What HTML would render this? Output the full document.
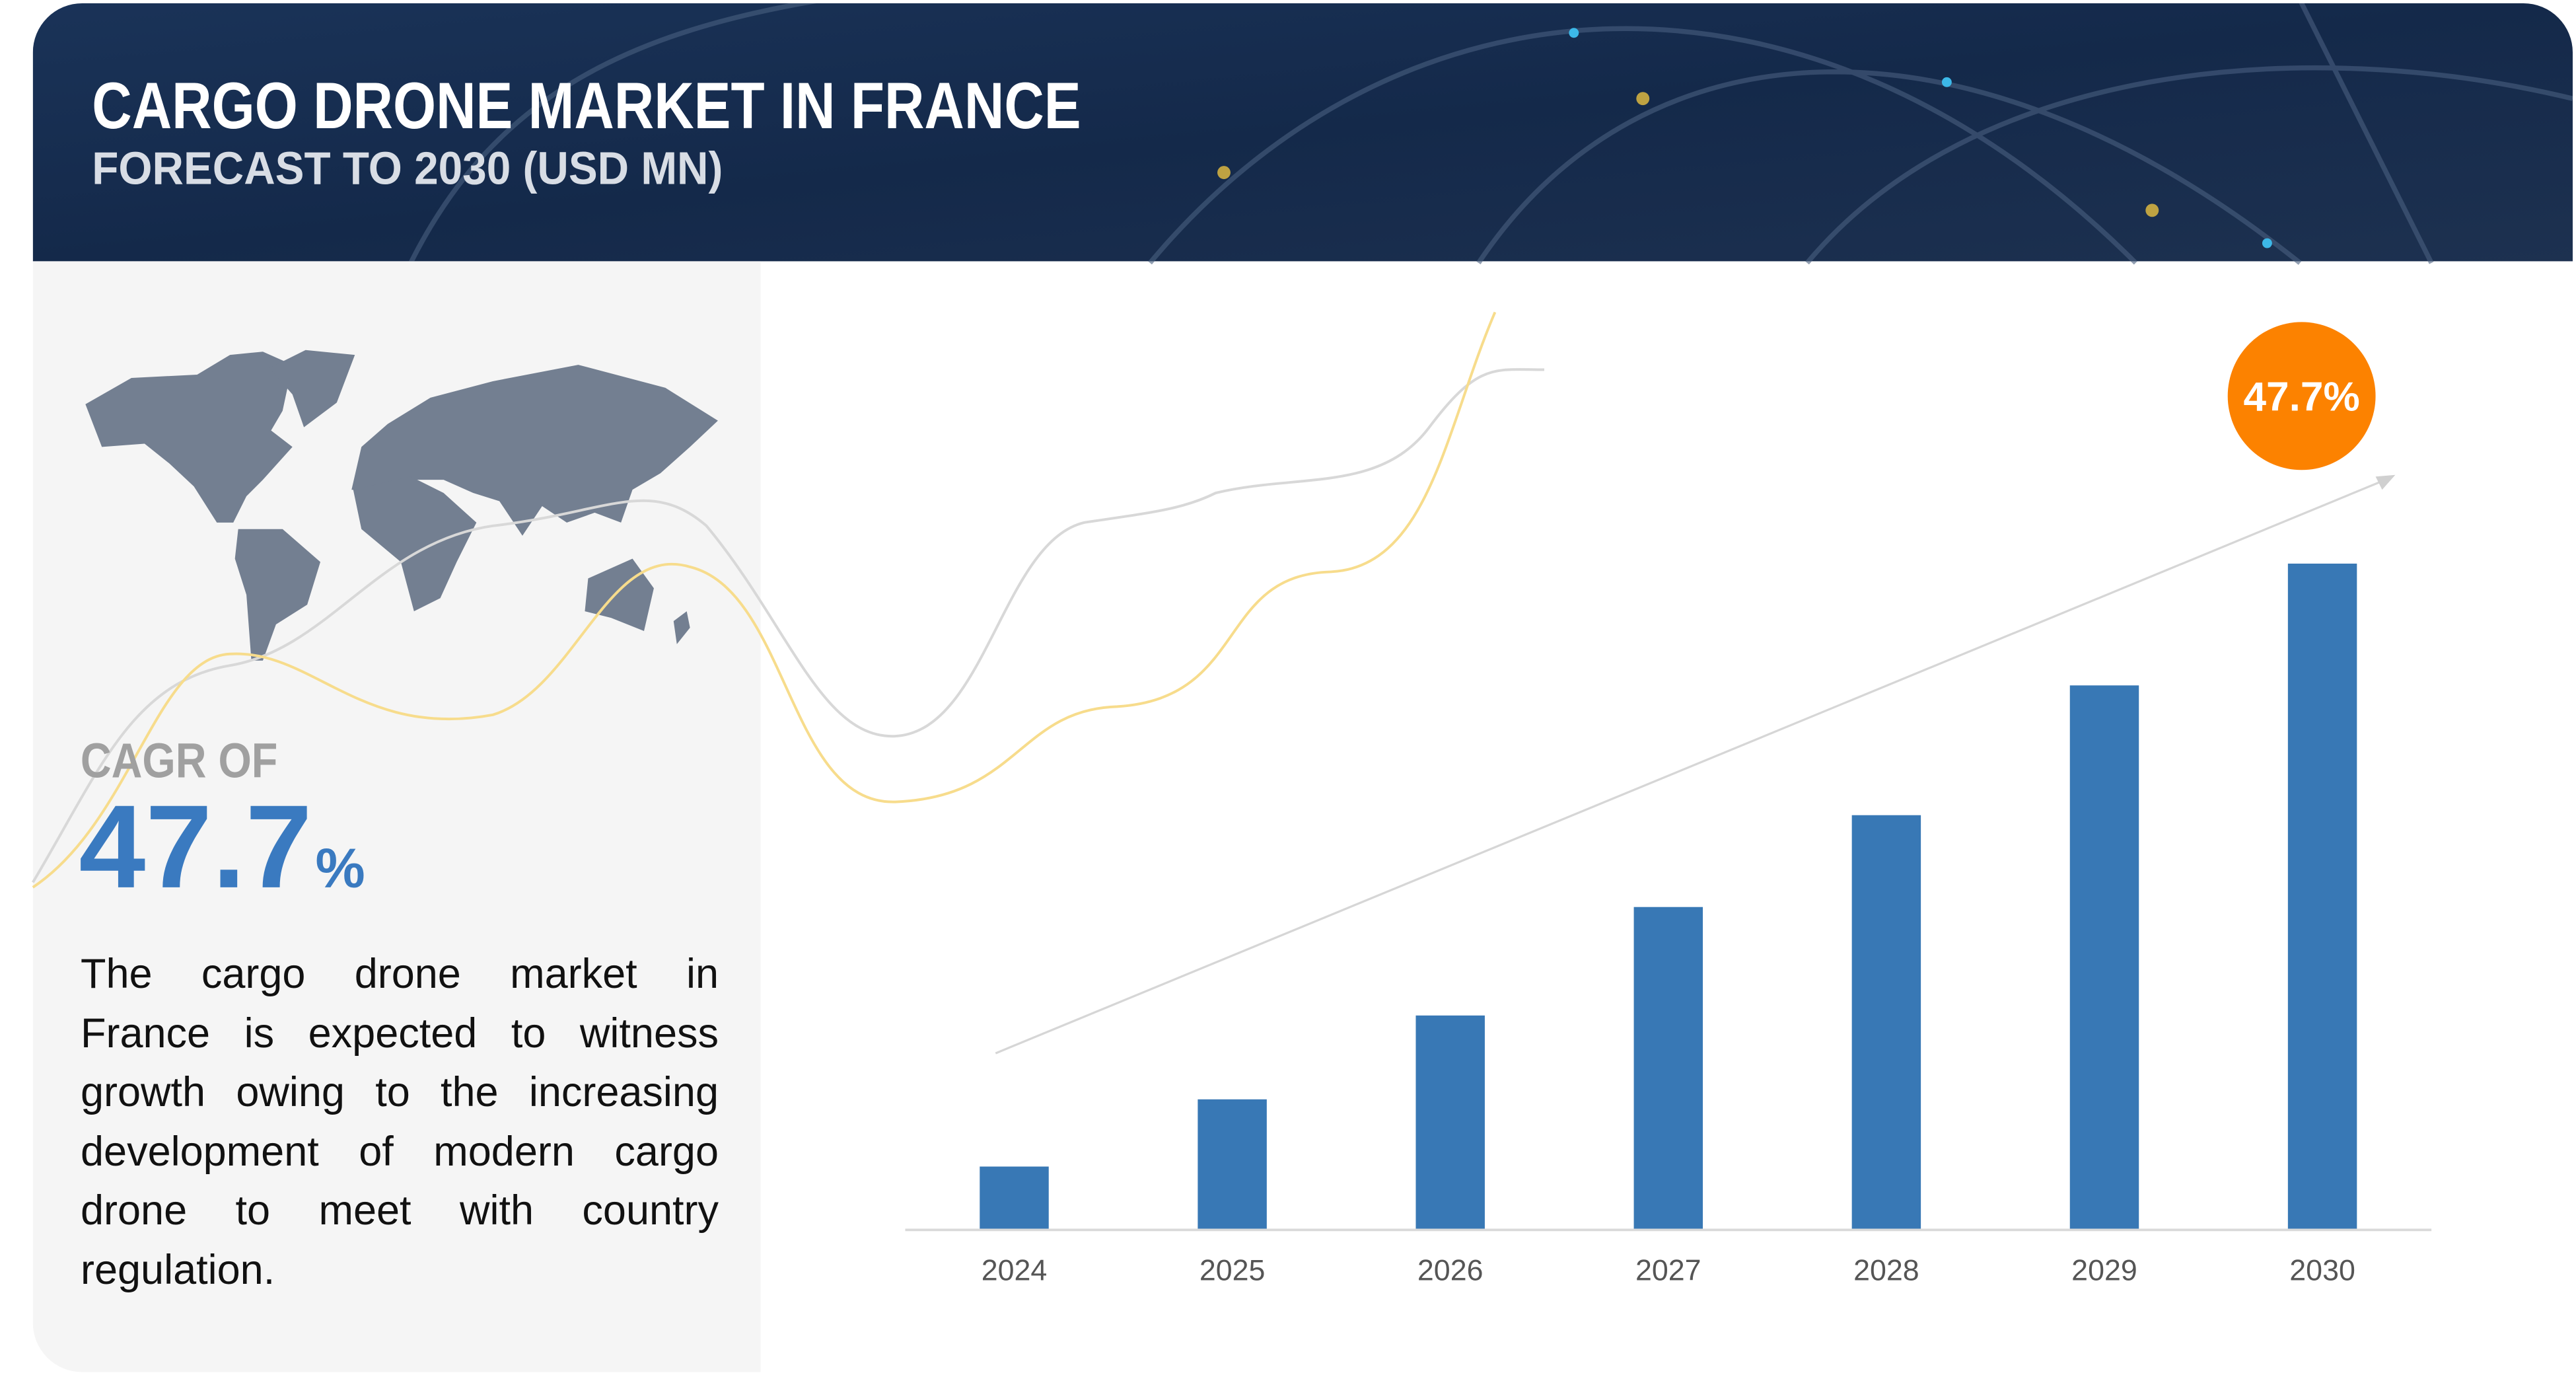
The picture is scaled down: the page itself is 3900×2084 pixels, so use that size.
<!DOCTYPE html>
<html><head><meta charset="utf-8"><style>
html,body{margin:0;padding:0;background:#fff;width:3900px;height:2084px;overflow:hidden;position:relative}
svg{display:block}
#desc{position:absolute;left:122px;top:1430px;width:966px;font-family:"Liberation Sans",sans-serif;font-size:63px;line-height:89.5px;color:#111;margin:0}
#desc span{display:block;text-align:justify;text-align-last:justify;white-space:nowrap}
#desc span.last{text-align-last:left}
</style></head><body>
<svg id="root" width="3900" height="2084" viewBox="0 0 1568 838" preserveAspectRatio="none" xmlns="http://www.w3.org/2000/svg">
<defs>
<linearGradient id="hdr" x1="0" y1="0" x2="1" y2="1">
<stop offset="0" stop-color="#1a3358"/><stop offset="0.5" stop-color="#14294a"/><stop offset="1" stop-color="#1d3150"/>
</linearGradient>
<clipPath id="card"><rect x="20" y="2" width="1546" height="833" rx="30"/></clipPath>
</defs>
<g clip-path="url(#card)">
<rect x="20" y="2" width="1546" height="833" fill="#ffffff"/>
<rect x="20" y="2" width="1546" height="157" fill="url(#hdr)"/>
<g fill="none" stroke="#4a6080" stroke-width="3" opacity="0.6">
<path d="M700 160 C 850 -20, 1100 -40, 1300 160"/>
<path d="M900 160 C 1000 10, 1200 0, 1400 160"/>
<path d="M1100 160 C 1200 40, 1400 20, 1566 60"/>
<path d="M250 160 C 300 60, 380 20, 500 0"/>
<path d="M1400 0 L 1480 160"/>
</g>
<g>
<circle cx="745" cy="105" r="4" fill="#e8c040" opacity="0.8"/>
<circle cx="1000" cy="60" r="4" fill="#e8c040" opacity="0.8"/>
<circle cx="1185" cy="50" r="3" fill="#3cb8e8"/>
<circle cx="958" cy="20" r="3" fill="#3cb8e8"/>
<circle cx="1380" cy="148" r="3" fill="#3cb8e8"/>
<circle cx="1310" cy="128" r="4" fill="#e8c040" opacity="0.8"/>
</g>
<rect x="20" y="159" width="443" height="676" fill="#f5f5f5"/>
</g>
<text x="56" y="78" font-family="'Liberation Sans Narrow','Liberation Sans',sans-serif" font-weight="bold" font-size="40" fill="#ffffff" textLength="602" lengthAdjust="spacingAndGlyphs">CARGO DRONE MARKET IN FRANCE</text>
<text x="56" y="112" font-family="'Liberation Sans Narrow','Liberation Sans',sans-serif" font-weight="bold" font-size="28" fill="#d8dde5" textLength="384" lengthAdjust="spacingAndGlyphs">FORECAST TO 2030 (USD MN)</text>

<g fill="#737f91">
<path d="M52 246 L80 230 L120 228 L140 216 L160 214 L178 222 L172 250 L165 262 L178 272 L160 292 L150 302 L142 318 L132 318 L118 296 L103 282 L88 270 L62 272 Z"/>
<path d="M164 224 L186 213 L216 216 L205 245 L185 260 L178 240 Z"/>
<path d="M145 322 L172 322 L195 342 L187 368 L168 380 L160 402 L153 402 L150 362 L143 340 Z"/>
<path d="M214 298 L220 272 L236 258 L262 242 L300 232 L352 222 L405 236 L437 256 L420 272 L402 288 L385 298 L378 318 L362 312 L345 318 L330 308 L318 326 L304 305 L288 300 L270 292 L248 292 L232 300 Z"/>
<path d="M215 298 L250 290 L270 300 L290 318 L278 342 L268 364 L252 372 L244 342 L220 322 Z"/>
<path d="M358 352 L385 340 L398 358 L392 384 L372 376 L356 372 Z"/>
<path d="M410 378 L418 372 L420 382 L412 392 Z"/>
</g>

<g fill="none" stroke-width="1.6">
<path d="M20 537 C 60 470, 80 415, 140 405 C 200 395, 230 330, 300 320 C 370 312, 395 290, 430 320 C 480 380, 500 450, 545 448 C 600 445, 610 330, 660 318 C 700 312, 720 310, 740 300 C 790 288, 840 300, 870 260 C 900 220, 910 225, 940 225" stroke="#d8d8d8"/>
<path d="M20 540 C 80 500, 95 400, 140 398 C 190 395, 220 450, 300 435 C 350 420, 370 330, 420 345 C 480 360, 480 490, 545 488 C 620 485, 620 432, 680 430 C 760 425, 740 350, 810 348 C 870 345, 880 260, 910 190" stroke="#f7dc8c"/>
</g>

<text x="49" y="473" font-family="'Liberation Sans Narrow','Liberation Sans',sans-serif" font-weight="bold" font-size="30" fill="#a0a0a0" textLength="120" lengthAdjust="spacingAndGlyphs">CAGR OF</text>
<text x="48" y="540" font-family="'Liberation Sans Narrow','Liberation Sans',sans-serif" font-weight="bold" font-size="72" fill="#3a7ac0" textLength="142" lengthAdjust="spacingAndGlyphs">47.7</text>
<text x="192" y="540" font-family="'Liberation Sans Narrow','Liberation Sans',sans-serif" font-weight="bold" font-size="34" fill="#3a7ac0">%</text>

<g id="chart"></g>

<line x1="606" y1="641" x2="1452" y2="292" stroke="#d6d6d6" stroke-width="1.3"/>
<path d="M1458 289 L1446 290 L1450 298 Z" fill="#d0d0d0"/>
<circle cx="1401" cy="241" r="45" fill="#fc8200"/>
<text x="1401" y="250" text-anchor="middle" font-family="'Liberation Sans',sans-serif" font-weight="bold" font-size="25" fill="#fff">47.7%</text>
</svg>
<p id="desc"><span>The cargo drone market in</span><span>France is expected to witness</span><span>growth owing to the increasing</span><span>development of modern cargo</span><span>drone to meet with country</span><span class="last">regulation.</span></p>
<script>
const categories = ["2024","2025","2026","2027","2028","2029","2030"];
const values = [9.4, 19.5, 32.1, 48.4, 62.2, 81.7, 100];
const yMax = 100;
(function(){
  const NS = "http://www.w3.org/2000/svg";
  const g = document.getElementById("chart");
  const x0 = 551, x1 = 1480, yBase = 748, plotH = 405;
  const band = (x1 - x0) / categories.length;
  const xScale = i => x0 + band * (i + 0.5);
  const yScale = v => yBase - v / yMax * plotH;
  const barW = 42;
  categories.forEach((c, i) => {
    const r = document.createElementNS(NS, "rect");
    
    
    const yt = yScale(values[i]);
    r.setAttribute("x", xScale(i) - barW / 2);
    r.setAttribute("y", yt);
    r.setAttribute("width", barW);
    r.setAttribute("height", yBase - yt);
    r.setAttribute("fill", "#3878b5");
    g.appendChild(r);
    const t = document.createElementNS(NS, "text");
    
    
    t.setAttribute("x", xScale(i));
    t.setAttribute("y", 779);
    t.setAttribute("text-anchor", "middle");
    t.setAttribute("font-family", "'Liberation Sans',sans-serif");
    t.setAttribute("font-size", "18");
    t.setAttribute("fill", "#555");
    t.textContent = c;
    g.appendChild(t);
  });
  const ax = document.createElementNS(NS, "line");
  
  
  ax.setAttribute("x1", x0); ax.setAttribute("x2", x1);
  ax.setAttribute("y1", yBase + 0.5); ax.setAttribute("y2", yBase + 0.5);
  ax.setAttribute("stroke", "#d9d9d9"); ax.setAttribute("stroke-width", "1.5");
  g.appendChild(ax);
})();
</script>
</body></html>
